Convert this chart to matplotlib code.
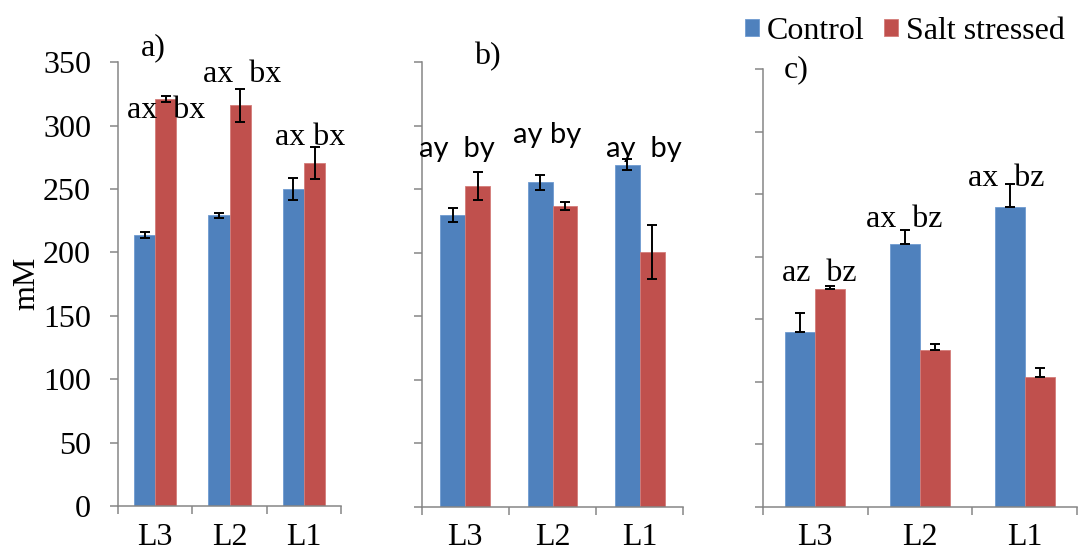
import numpy as np
import matplotlib
matplotlib.use('Agg')
import matplotlib.pyplot as plt
from matplotlib.ticker import MultipleLocator, FixedLocator

plt.rcParams['font.family'] = ['Liberation Serif', 'DejaVu Serif']

# Lines and treatments
lines = ['L3', 'L2', 'L1']
series = ['Control', 'Salt stressed']

# a) concentrations (mM) and standard errors
a_control = [214, 229.5, 250]
a_salt = [321, 316, 270.5]
a_control_err = [2.5, 2, 8.4]
a_salt_err = [2.6, 13.3, 12.6]
a_letters = ['ax  bx', 'ax  bx', 'ax bx']

# b)
b_control = [230, 255.5, 269.5]
b_salt = [252.5, 237, 200.5]
b_control_err = [5.5, 5.9, 4.5]
b_salt_err = [10.9, 3.3, 21]
b_letters = ['ay  by', 'ay by', 'ay  by']

# c) (upper error only)
c_control = [139.5, 210, 240]
c_salt = [174.5, 125.5, 104]
c_control_err = [15.7, 11.2, 17.9]
c_salt_err = [2.4, 5.1, 7.2]
c_letters = ['az  bz', 'ax  bz', 'ax  bz']

# letter positions (category units, mM)
a_letter_pos = [(0.144, 305.8), (1.174, 334.2), (2.077, 284.7)]
b_letter_pos = [(-0.099, 275.6), (0.943, 286.2), (2.053, 275.6)]
c_letter_pos = [(0.035, 180.6), (0.847, 224.0), (1.819, 256.8)]

BLUE = '#4F81BD'
RED = '#C0504D'
AXIS_GREY = '#868686'
FS = 23

fig = plt.figure(figsize=(10.78, 5.55), dpi=100)
ax_a = fig.add_axes([0.1095, 0.0883, 0.2069, 0.7995])
ax_b = fig.add_axes([0.3912, 0.0870, 0.2427, 0.8007])
ax_c = fig.add_axes([0.7075, 0.0870, 0.2918, 0.7880])

w = 1 / 3.5
x = np.arange(len(lines))


def draw_panel(ax, ctrl, salt, ctrl_err, salt_err, letters, pos, plus_only=False,
               ylabels=True, letter_font=None):
    b1 = ax.bar(x - w / 2, ctrl, w, color=BLUE, edgecolor='#6F9AD0', linewidth=0.6,
                label=series[0])
    b2 = ax.bar(x + w / 2, salt, w, color=RED, edgecolor='#D47C79', linewidth=0.6,
                label=series[1])
    if plus_only:
        ce = [np.zeros(3), ctrl_err]
        se = [np.zeros(3), salt_err]
    else:
        ce, se = ctrl_err, salt_err
    kw = dict(fmt='none', ecolor='black', elinewidth=1.4, capsize=3.8, capthick=1.4)
    ax.errorbar(x - w / 2, ctrl, yerr=ce, **kw)
    ax.errorbar(x + w / 2, salt, yerr=se, **kw)

    for txt, (tx, ty) in zip(letters, pos):
        if letter_font:
            ax.text(tx, ty, txt, ha='center', va='baseline', fontsize=21,
                    family=letter_font)
        else:
            ax.text(tx, ty, txt, ha='center', va='baseline', fontsize=FS)

    ax.set_xlim(-0.5, 2.5)
    ax.set_ylim(0, 350)
    ax.yaxis.set_major_locator(MultipleLocator(50))
    ax.xaxis.set_major_locator(FixedLocator(x))
    ax.xaxis.set_minor_locator(FixedLocator([-0.5, 0.5, 1.5, 2.5]))
    ax.set_xticklabels(lines)
    ax.tick_params(axis='x', which='major', length=0, pad=12, labelsize=FS)
    ax.tick_params(axis='x', which='minor', length=6, width=1.1, color=AXIS_GREY,
                   direction='out')
    ax.tick_params(axis='y', length=6, width=1.1, color=AXIS_GREY, direction='out',
                   pad=13.5, labelsize=FS)
    if ylabels == 'zero':
        ax.set_yticklabels(['0'] + [''] * 7)
    elif not ylabels:
        ax.set_yticklabels([])
    for s in ['top', 'right']:
        ax.spines[s].set_visible(False)
    for s in ['left', 'bottom']:
        ax.spines[s].set_color(AXIS_GREY)
        ax.spines[s].set_linewidth(1.1)
    return b1, b2


h1, h2 = draw_panel(ax_a, a_control, a_salt, a_control_err, a_salt_err,
                    a_letters, a_letter_pos)
draw_panel(ax_b, b_control, b_salt, b_control_err, b_salt_err,
           b_letters, b_letter_pos, ylabels='zero', letter_font='Lato')
draw_panel(ax_c, c_control, c_salt, c_control_err, c_salt_err,
           c_letters, c_letter_pos, plus_only=True, ylabels=False)

fig.text(0.025, 0.49, 'mM', rotation=90, ha='center', va='center', fontsize=FS)
fig.text(0.142, 0.901, 'a)', ha='center', va='baseline', fontsize=FS)
fig.text(0.452, 0.885, 'b)', ha='center', va='baseline', fontsize=FS)
fig.text(0.739, 0.861, 'c)', ha='center', va='baseline', fontsize=FS)

fig.legend([h1, h2], series, loc='upper right', bbox_to_anchor=(1.006, 1.004),
           ncol=2, frameon=False, fontsize=FS, handlelength=0.45, handleheight=0.45,
           handletextpad=0.25, columnspacing=0.6, borderaxespad=0.2)

fig.savefig('out.png', dpi=100)
